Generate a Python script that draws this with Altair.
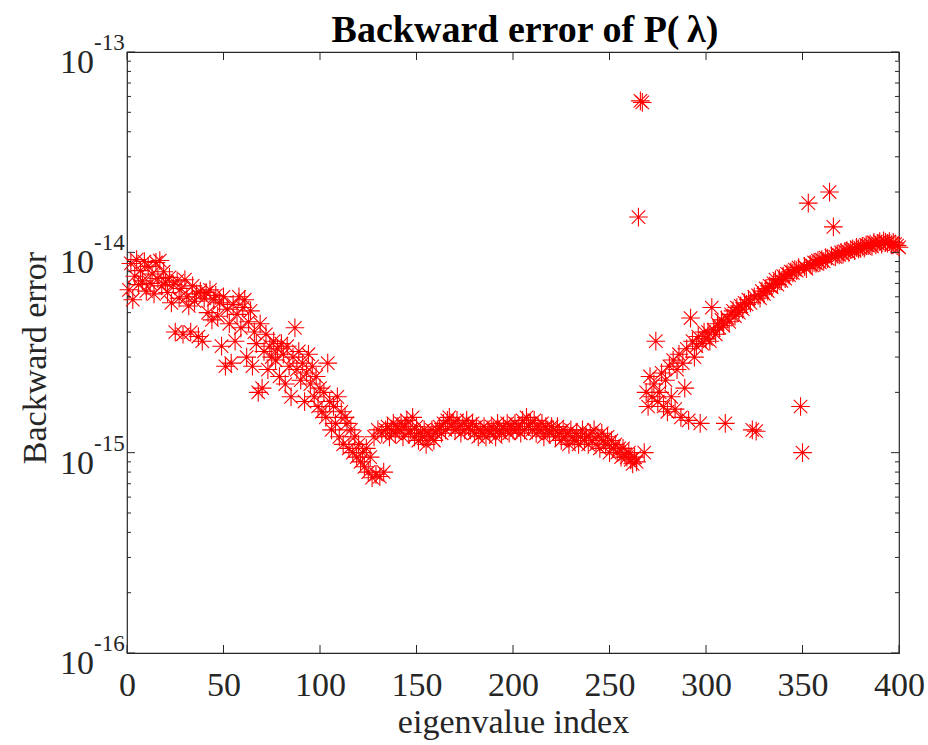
import altair as alt
import pandas as pd

# backward error values (units of 1e-15), eigenvalue index 1..400
err_1_20 = [6.5, 8.8, 5.8, 7.6, 9.2, 6.9, 8.1, 7.2, 9.0, 6.4, 8.5, 7.0, 7.8, 6.2, 8.9, 7.4, 9.1, 6.8, 8.0, 7.1]
err_21_40 = [6.3, 7.5, 5.6, 6.9, 4.0, 7.2, 5.9, 6.6, 3.9, 7.3, 6.0, 5.4, 4.0, 6.8, 5.7, 6.2, 3.8, 6.4, 3.6, 5.9]
err_41_60 = [6.3, 5.0, 6.5, 4.6, 5.8, 6.1, 4.8, 5.6, 3.4, 6.0, 2.7, 5.2, 4.4, 2.8, 5.5, 3.6, 4.9, 6.0, 4.2, 5.3]
err_61_80 = [5.8, 3.0, 4.5, 5.1, 2.7, 4.0, 3.5, 2.0, 4.4, 2.1, 3.2, 3.9, 2.6, 3.4, 3.0, 3.6, 2.9, 3.3, 2.4, 3.5]
err_81_100 = [3.1, 2.2, 3.4, 2.7, 1.9, 3.0, 4.2, 2.6, 3.2, 2.3, 2.8, 1.8, 2.5, 3.1, 2.2, 2.7, 1.9, 2.4, 1.7, 2.1]
err_101_120 = [1.6, 2.0, 1.5, 2.8, 1.8, 1.3, 1.7, 1.4, 1.9, 1.2, 1.6, 1.1, 1.5, 1.4, 1.05, 1.3, 1.0, 1.2, 0.95, 1.1]
err_121_140 = [0.9, 1.0, 0.85, 1.05, 0.8, 0.95, 0.75, 1.2, 0.78, 1.3, 0.76, 1.25, 0.8, 1.3, 1.35, 1.2, 1.3, 1.4, 1.25, 1.35]
err_141_160 = [1.3, 1.4, 1.2, 1.35, 1.45, 1.25, 1.3, 1.5, 1.2, 1.35, 1.15, 1.25, 1.2, 1.3, 1.1, 1.25, 1.2, 1.3, 1.15, 1.25]
err_161_180 = [1.3, 1.35, 1.25, 1.4, 1.3, 1.45, 1.5, 1.35, 1.4, 1.3, 1.45, 1.35, 1.25, 1.4, 1.3, 1.45, 1.35, 1.3, 1.4, 1.25]
err_181_200 = [1.35, 1.2, 1.3, 1.25, 1.35, 1.2, 1.3, 1.25, 1.35, 1.3, 1.2, 1.4, 1.3, 1.25, 1.35, 1.3, 1.4, 1.25, 1.35, 1.3]
err_201_220 = [1.4, 1.3, 1.35, 1.25, 1.45, 1.3, 1.5, 1.35, 1.4, 1.3, 1.45, 1.25, 1.35, 1.3, 1.4, 1.2, 1.35, 1.3, 1.25, 1.35]
err_221_240 = [1.3, 1.2, 1.35, 1.25, 1.15, 1.3, 1.2, 1.25, 1.1, 1.3, 1.2, 1.15, 1.25, 1.1, 1.2, 1.3, 1.15, 1.2, 1.1, 1.25]
err_241_260 = [1.15, 1.3, 1.1, 1.2, 1.05, 1.25, 1.15, 1.1, 1.2, 1.0, 1.15, 1.05, 1.1, 1.0, 1.05, 0.95, 1.05, 0.98, 0.95, 1.0]
err_261_280 = [0.92, 0.88, 0.95, 0.9, 15.0, 57.0, 56.0, 1.0, 2.0, 1.7, 2.4, 1.9, 2.2, 3.6, 1.8, 2.0, 2.5, 1.7, 2.3, 1.6]
err_281_300 = [2.7, 1.9, 2.9, 1.65, 2.6, 3.1, 1.5, 2.8, 2.1, 3.3, 1.45, 4.7, 3.6, 3.0, 3.4, 3.8, 1.4, 3.5, 4.0, 3.7]
err_301_320 = [4.0, 3.6, 5.3, 4.1, 3.9, 4.4, 4.2, 4.6, 4.3, 1.4, 4.7, 4.5, 4.9, 5.1, 4.8, 5.3, 5.0, 5.4, 5.2, 5.6]
err_321_340 = [5.5, 5.8, 5.6, 1.3, 6.0, 1.28, 6.1, 5.9, 6.4, 6.2, 6.6, 6.4, 6.8, 6.7, 7.0, 7.3, 6.9, 7.4, 7.2, 7.6]
err_341_360 = [7.4, 7.8, 7.7, 8.0, 7.9, 8.2, 8.1, 8.4, 1.7, 1.0, 8.5, 8.3, 17.6, 8.7, 8.6, 8.9, 8.8, 9.1, 8.9, 9.2]
err_361_380 = [9.0, 9.4, 9.3, 20.0, 9.6, 13.4, 9.5, 9.8, 9.7, 10.0, 9.8, 10.1, 10.2, 10.0, 10.3, 10.4, 10.2, 10.6, 10.4, 10.5]
err_381_400 = [10.7, 10.5, 10.9, 10.8, 11.0, 10.7, 11.2, 10.9, 11.1, 11.3, 11.0, 11.4, 11.2, 11.1, 11.3, 10.9, 11.2, 11.0, 10.8, 10.6]

x_ticks = [0, 50, 100, 150, 200, 250, 300, 350, 400]
y_decades = [-16, -15, -14, -13]
y_exp_text = ["-16", "-15", "-14", "-13"]
minor_mult = [2, 3, 4, 5, 6, 7, 8, 9]

W, H = 772, 601
FONT = "Liberation Serif"
INK = "#262626"

err_all = (err_1_20 + err_21_40 + err_41_60 + err_61_80 + err_81_100 + err_101_120 +
           err_121_140 + err_141_160 + err_161_180 + err_181_200 + err_201_220 +
           err_221_240 + err_241_260 + err_261_280 + err_281_300 + err_301_320 +
           err_321_340 + err_341_360 + err_361_380 + err_381_400)
df = pd.DataFrame({"idx": list(range(1, len(err_all) + 1)),
                   "err": [v * 1e-15 for v in err_all]})

xsc = alt.Scale(domain=[0, 400], nice=False)
ysc = alt.Scale(type="log", domain=[1e-16, 1e-13], nice=False)

star = "M-1,0L1,0M0,-1L0,1M-0.72,-0.72L0.72,0.72M-0.72,0.72L0.72,-0.72"

points = alt.Chart(df).mark_point(
    shape=star, filled=False, stroke="#ff0000", strokeWidth=1.1, size=350, opacity=1
).encode(
    x=alt.X("idx:Q", scale=xsc, axis=alt.Axis(
        values=x_ticks, grid=False, ticks=False, domain=False, labelFlush=False,
        labelFont=FONT, labelFontSize=34, labelColor=INK, labelPadding=15,
        title="eigenvalue index", titleFont=FONT, titleFontSize=34,
        titleFontWeight="normal", titleColor=INK, titleY=79, titleBaseline="alphabetic")),
    y=alt.Y("err:Q", scale=ysc, axis=alt.Axis(
        labels=False, ticks=False, domain=False, grid=False,
        title="Backward error", titleFont=FONT, titleFontSize=34,
        titleFontWeight="normal", titleColor=INK, titleAngle=-90,
        titleX=-92, titleY=H / 2 + 5, titleAlign="center", titleBaseline="middle")),
)

xt = pd.DataFrame({"idx": x_ticks})
xtick_bot = alt.Chart(xt).mark_rule(color=INK, strokeWidth=1).encode(
    x=alt.X("idx:Q", scale=xsc), y=alt.value(H), y2=alt.value(H - 8))
xtick_top = alt.Chart(xt).mark_rule(color=INK, strokeWidth=1).encode(
    x=alt.X("idx:Q", scale=xsc), y=alt.value(0), y2=alt.value(8))

yt = pd.DataFrame({"e": y_exp_text, "err": [10.0 ** d for d in y_decades]})
ytick_l = alt.Chart(yt).mark_rule(color=INK, strokeWidth=1).encode(
    y=alt.Y("err:Q", scale=ysc), x=alt.value(0), x2=alt.value(8))
ytick_r = alt.Chart(yt).mark_rule(color=INK, strokeWidth=1).encode(
    y=alt.Y("err:Q", scale=ysc), x=alt.value(W), x2=alt.value(W - 8))

ym = pd.DataFrame({"err": [m * 10.0 ** d for d in y_decades[:-1] for m in minor_mult]})
ymin_l = alt.Chart(ym).mark_rule(color=INK, strokeWidth=1).encode(
    y=alt.Y("err:Q", scale=ysc), x=alt.value(0), x2=alt.value(4))
ymin_r = alt.Chart(ym).mark_rule(color=INK, strokeWidth=1).encode(
    y=alt.Y("err:Q", scale=ysc), x=alt.value(W), x2=alt.value(W - 4))

ylab_base = alt.Chart(yt).mark_text(
    text="10", font=FONT, fontSize=34, color=INK, align="right", baseline="middle", dy=11
).encode(y=alt.Y("err:Q", scale=ysc), x=alt.value(-33))
ylab_exp = alt.Chart(yt).mark_text(
    font=FONT, fontSize=23, color=INK, align="left", baseline="middle", dy=-9
).encode(y=alt.Y("err:Q", scale=ysc), x=alt.value(-33), text=alt.Text("e:N"))

chart = alt.layer(
    points, xtick_bot, xtick_top, ytick_l, ytick_r, ymin_l, ymin_r, ylab_base, ylab_exp
).properties(
    width=W, height=H,
    title=alt.TitleParams("Backward error of P(\u2009\u03bb)", font=FONT, fontSize=38,
                          fontWeight="bold", color="#000000", anchor="middle",
                          offset=8, dy=26, dx=12),
    autosize=alt.AutoSizeParams(type="none"),
    padding={"left": 127, "top": 52, "right": 29, "bottom": 92},
).configure(background="white").configure_view(stroke=INK, strokeWidth=1.2)

chart.save("out.html", embed_options={"renderer": "svg", "actions": False})
